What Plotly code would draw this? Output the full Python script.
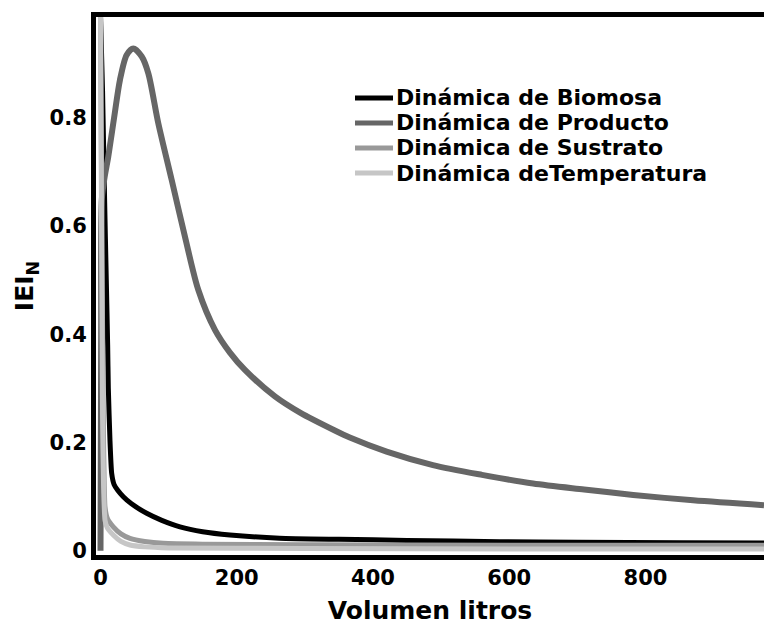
import plotly.graph_objects as go

# ---------------- data ----------------
series_names = ["Dinámica de Biomosa", "Dinámica de Producto",
                "Dinámica de Sustrato", "Dinámica deTemperatura"]

biomosa_x = [0, 3, 6, 8.5, 10.5, 11.5, 13.9, 16.4, 20, 25, 33.5, 45, 67.8, 90,
             116.7, 150, 190, 263, 350, 450, 586, 700, 850, 974]
biomosa_y = [0.99, 0.85, 0.65, 0.5, 0.38, 0.30, 0.204, 0.143, 0.122, 0.112,
             0.0996, 0.087, 0.069, 0.056, 0.044, 0.035, 0.029, 0.023, 0.021,
             0.019, 0.0165, 0.0155, 0.0145, 0.014]

producto_x = [0, 1, 2, 6, 11.4, 20, 28.6, 38.4, 48.1, 60.5, 70.2, 84.8, 104.5,
              124, 143.5, 168, 190, 212, 256, 293, 344, 366, 420, 488, 560,
              635, 710, 782, 870, 974]
producto_y = [0.0, 0.4, 0.65, 0.69, 0.728, 0.80, 0.870, 0.916, 0.928, 0.913,
              0.882, 0.790, 0.685, 0.580, 0.482, 0.408, 0.366, 0.334, 0.285,
              0.255, 0.222, 0.209, 0.183, 0.158, 0.140, 0.124, 0.113, 0.103,
              0.093, 0.084]

sustrato_x = [0, 2, 4, 5.5, 6.6, 10, 18.8, 30, 43.3, 65, 92, 150, 300, 600, 974]
sustrato_y = [0.99, 0.6, 0.25, 0.12, 0.081, 0.06, 0.044, 0.031, 0.0227, 0.017,
              0.0135, 0.012, 0.011, 0.010, 0.010]

temperatura_x = [0, 1.5, 3, 4.5, 6.6, 10, 18.8, 30, 43.3, 65, 100, 300, 600, 974]
temperatura_y = [0.99, 0.6, 0.25, 0.12, 0.0566, 0.042, 0.0288, 0.017, 0.0104,
                 0.007, 0.005, 0.004, 0.003, 0.003]

x_ticks = [0, 200, 400, 600, 800]
y_ticks = [0, 0.2, 0.4, 0.6, 0.8]
y_ticktext = ["0", "0.2", "0.4", "0.6", "0.8"]

# ---------------- styling ----------------
colors = ["#000000", "#666666", "#999999", "#c6c6c6"]
widths = [5, 6, 5, 5]
smooth = [0.5, 0.8, 0.4, 0.4]
FONT = "DejaVu Sans"

fig = go.Figure()
for name, xs, ys, c, w, s in zip(series_names,
                                 [biomosa_x, producto_x, sustrato_x, temperatura_x],
                                 [biomosa_y, producto_y, sustrato_y, temperatura_y],
                                 colors, widths, smooth):
    fig.add_trace(go.Scatter(x=xs, y=ys, mode="lines", name=name,
                             line=dict(color=c, width=w, shape="spline", smoothing=s),
                             showlegend=False))

# plot area in pixels: left 96, right 764, top 17, bottom 555
W, H = 764, 628
L, R, T, B = 96, 764, 17, 555


def px_x(p):
    return (p - L) / (R - L)


def px_y(p):
    return (B - p) / (B - T)


# manual legend (to match compact row spacing of the reference)
row_y = [98, 123, 148, 173]
for name, c, ry in zip(series_names, colors, row_y):
    fig.add_shape(type="line", xref="paper", yref="paper",
                  x0=px_x(355), x1=px_x(393), y0=px_y(ry), y1=px_y(ry),
                  line=dict(color=c, width=5))
    fig.add_annotation(text=name, xref="paper", yref="paper",
                       x=px_x(394), y=px_y(ry), xanchor="left", yanchor="middle",
                       showarrow=False,
                       font=dict(family=FONT, size=22, color="black", weight="bold"))

fig.update_layout(
    width=W, height=H,
    margin=dict(l=L, r=W - R, t=T, b=H - B, pad=0),
    paper_bgcolor="white", plot_bgcolor="white",
    showlegend=False,
)
fig.update_xaxes(
    range=[-6.6, 974], tickvals=x_ticks, ticks="", showgrid=False, zeroline=False,
    showline=True, linecolor="black", linewidth=5, mirror=True,
    tickfont=dict(family=FONT, size=21, color="black", weight="bold"),
    title=dict(text="Volumen litros", standoff=14,
               font=dict(family=FONT, size=25, color="black", weight="bold")),
    automargin=False,
)
fig.update_yaxes(
    range=[-0.008, 0.986], tickvals=y_ticks, ticktext=y_ticktext, ticks="",
    showgrid=False, zeroline=False,
    showline=True, linecolor="black", linewidth=5, mirror=False,
    tickfont=dict(family=FONT, size=21, color="black", weight="bold"),
    title=dict(text="IEI<sub>N</sub>", standoff=10,
               font=dict(family=FONT, size=25, color="black", weight="bold")),
    automargin=False,
)

fig.write_html("out.html")
